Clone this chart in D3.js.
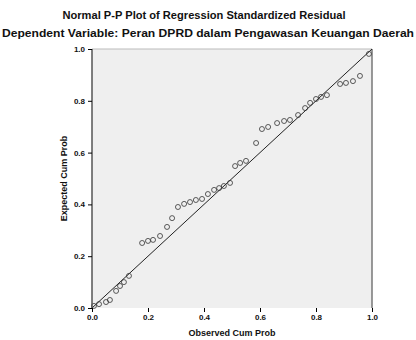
<!DOCTYPE html>
<html>
<head>
<meta charset="utf-8">
<script src="https://cdn.jsdelivr.net/npm/d3@7"></script>
<style>
  body { margin: 0; background: #fff; }
  text { font-family: "Liberation Sans", Arial, sans-serif; fill: #111; }
</style>
</head>
<body>
<div id="chart"></div>
<script>
// observed vs expected cumulative probabilities
const observed = [0.007, 0.025, 0.05, 0.064, 0.086, 0.10, 0.114, 0.132, 0.179, 0.20,
  0.218, 0.243, 0.268, 0.286, 0.307, 0.329, 0.35, 0.371, 0.393, 0.414,
  0.436, 0.454, 0.471, 0.493, 0.511, 0.529, 0.55, 0.586, 0.607, 0.629,
  0.661, 0.686, 0.707, 0.736, 0.761, 0.779, 0.80, 0.818, 0.839, 0.886,
  0.907, 0.932, 0.957, 0.989];
const expected = [0.008, 0.015, 0.023, 0.031, 0.066, 0.085, 0.10, 0.124, 0.251, 0.259,
  0.263, 0.278, 0.313, 0.347, 0.39, 0.402, 0.409, 0.417, 0.421, 0.44,
  0.456, 0.463, 0.471, 0.483, 0.548, 0.56, 0.568, 0.637, 0.691, 0.699,
  0.714, 0.722, 0.726, 0.745, 0.772, 0.792, 0.807, 0.815, 0.822, 0.865,
  0.869, 0.876, 0.896, 0.981];
const tickValues = [0, 0.2, 0.4, 0.6, 0.8, 1.0];

const W = 416, H = 340;
const margin = { top: 49, right: 44, bottom: 32, left: 92 };
const width = W - margin.left - margin.right;
const height = H - margin.top - margin.bottom;

const svg = d3.select("#chart").append("svg")
  .attr("width", W)
  .attr("height", H);

svg.append("text")
  .attr("x", 204)
  .attr("y", 19)
  .attr("text-anchor", "middle")
  .style("font-size", "10px")
  .style("font-weight", "bold")
  .attr("textLength", 283)
  .attr("lengthAdjust", "spacingAndGlyphs")
  .text("Normal P-P Plot of Regression Standardized Residual");

svg.append("text")
  .attr("x", 208)
  .attr("y", 37)
  .attr("text-anchor", "middle")
  .style("font-size", "10.5px")
  .style("font-weight", "bold")
  .attr("textLength", 412)
  .attr("lengthAdjust", "spacingAndGlyphs")
  .text("Dependent Variable: Peran DPRD dalam Pengawasan Keuangan Daerah");

const g = svg.append("g")
  .attr("transform", `translate(${margin.left},${margin.top})`);

const x = d3.scaleLinear().domain([0, 1]).range([0, width]);
const y = d3.scaleLinear().domain([0, 1]).range([height, 0]);

g.append("rect")
  .attr("width", width)
  .attr("height", height)
  .attr("fill", "#efefef");

// frame
g.append("line").attr("x1", 0).attr("x2", width).attr("y1", 0).attr("y2", 0)
  .style("stroke", "#bbb").style("stroke-width", 1);
g.append("line").attr("x1", width).attr("x2", width).attr("y1", 0).attr("y2", height)
  .style("stroke", "#777").style("stroke-width", 1.5);

// diagonal reference line
g.append("line")
  .attr("x1", x(0)).attr("y1", y(0))
  .attr("x2", x(1)).attr("y2", y(1))
  .style("stroke", "#222")
  .style("stroke-width", 1);

g.selectAll(".pt")
  .data(observed.map((o, i) => ({ o, e: expected[i] })))
  .enter().append("circle")
  .attr("class", "pt")
  .attr("cx", d => x(d.o))
  .attr("cy", d => y(d.e))
  .attr("r", 2.5)
  .attr("fill", "none")
  .attr("stroke", "#333")
  .attr("stroke-width", 0.8);

const yAxis = d3.axisLeft(y).tickValues(tickValues).tickFormat(d3.format(".1f"))
  .tickSize(4).tickPadding(3);
const xAxis = d3.axisBottom(x).tickValues(tickValues).tickFormat(d3.format(".1f"))
  .tickSize(4).tickPadding(2);

g.append("g")
  .attr("class", "y axis")
  .call(yAxis)
  .call(a => a.select(".domain").style("stroke", "#555").style("stroke-width", 1.5)
    .attr("d", `M0,0V${height}`))
  .call(a => a.selectAll("text").style("font-size", "8px").style("font-weight", "bold")
    .style("font-family", "Liberation Sans, Arial, sans-serif"));

g.append("g")
  .attr("class", "x axis")
  .attr("transform", `translate(0,${height})`)
  .call(xAxis)
  .call(a => a.select(".domain").remove())
  .call(a => a.selectAll("text").style("font-size", "8px").style("font-weight", "bold")
    .style("font-family", "Liberation Sans, Arial, sans-serif"));

svg.append("text")
  .attr("x", margin.left + width / 2)
  .attr("y", 336)
  .attr("text-anchor", "middle")
  .style("font-size", "9px")
  .style("font-weight", "bold")
  .text("Observed Cum Prob");

svg.append("text")
  .attr("transform", `translate(67,${margin.top + height / 2}) rotate(-90)`)
  .attr("text-anchor", "middle")
  .style("font-size", "9px")
  .style("font-weight", "bold")
  .text("Expected Cum Prob");
</script>
</body>
</html>
